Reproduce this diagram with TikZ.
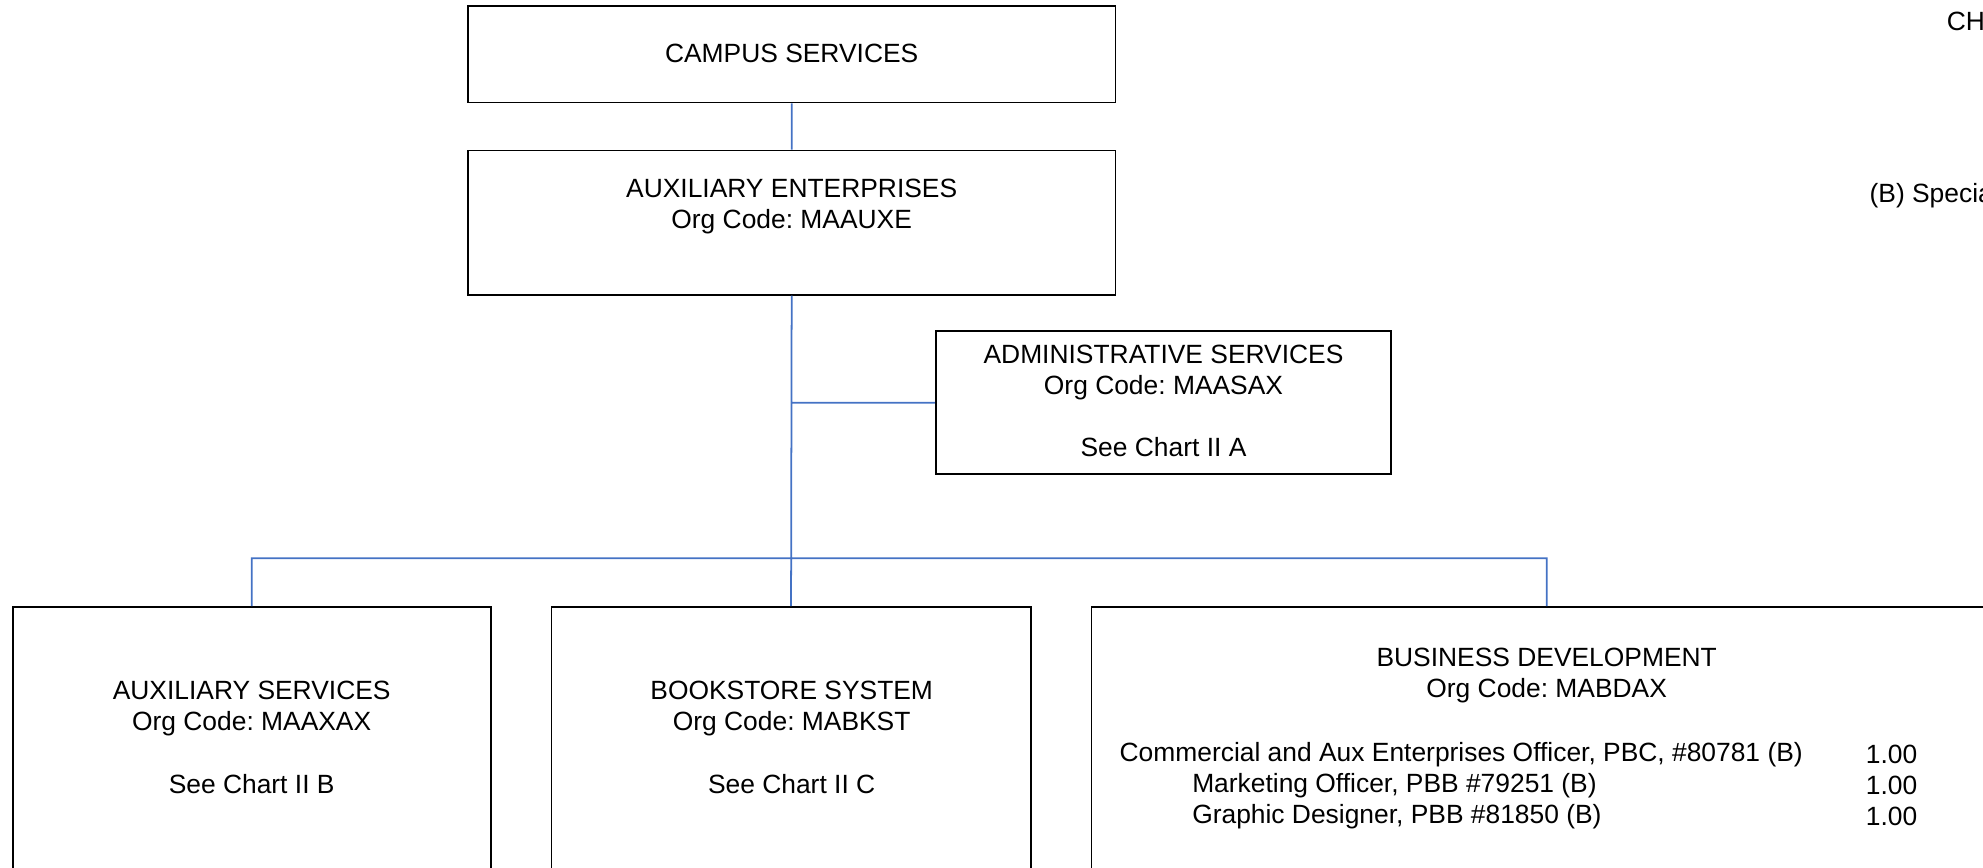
\documentclass[tikz,border=0pt]{standalone}
\usepackage{fontspec}
\setmainfont{Liberation Sans}
\frenchspacing
\usetikzlibrary{fit}
\definecolor{linkblue}{RGB}{68,114,196}
\tikzset{
    orgbox/.style={draw, line width=.8pt, inner sep=0pt},
    link/.style={draw=linkblue, line width=.8pt},
    txt/.style={inner sep=0pt, align=center, font=\fontsize{12}{14.1}\selectfont},
    listtxt/.style={txt, align=left, anchor=west},
}

\begin{document}
\begin{tikzpicture}[x=0.575pt, y=-0.575pt]
        \useasboundingbox (0,0) rectangle (1568,686);
        % Kästen
        \node[orgbox, fit={(370,5) (882,81)}] (campus) {};
        \node[orgbox, fit={(370,119) (882,233)}] (auxent) {};
        \node[orgbox, fit={(740,262) (1100,375)}] (admin) {};
        \node[orgbox, fit={(10,480) (388,720)}] (auxsvc) {};
        \node[orgbox, fit={(436,480) (815,720)}] (bookstore) {};
        \node[orgbox, fit={(863,480) (1583,720)}] (busdev) {};
        % Beschriftungen der Kästen
        \node[txt] (campustxt) at (626,42.5) {CAMPUS SERVICES};
        \node[txt] (auxenttxt) at (626,163) {AUXILIARY ENTERPRISES\\Org Code: MAAUXE};
        \node[txt] (admintxt) at (920,317) {ADMINISTRATIVE SERVICES\\Org Code: MAASAX\\[14.5pt]See Chart II A};
        \node[txt] (auxsvctxt) at (199,583) {AUXILIARY SERVICES\\Org Code: MAAXAX\\[14.5pt]See Chart II B};
        \node[txt] (bookstoretxt) at (626,583) {BOOKSTORE SYSTEM\\Org Code: MABKST\\[14.5pt]See Chart II C};
        \node[txt] (busdevtxt) at (1223,534) {BUSINESS DEVELOPMENT\\Org Code: MABDAX};
        % Stellen und FTE
        \node[listtxt] (busdevlist) at (885,621) {Commercial and Aux Enterprises Officer, PBC, \#80781 (B)\\
            \hspace*{33pt}Marketing Officer, PBB \#79251 (B)\\
            \hspace*{33pt}Graphic Designer, PBB \#81850 (B)};
        \node[listtxt] (busdevfte) at (1475,621) {1.00\\1.00\\1.00};
        % Rand rechts
        \node[listtxt] (chartno) at (1539,17) {CH};
        \node[listtxt] (legend) at (1478,155) {(B) Specia};
        % Verbindungen
        \coordinate (bus) at (626,441.5);
        \draw[link]
        (campus.south) -- (auxent.north)
        (auxent.south) -- (bookstore.north)
        (auxent.south |- admin.west) -- (admin.west)
        (auxsvc.north) |- (bus) -| (busdev.north)
        ;
    \end{tikzpicture}
\end{document}
